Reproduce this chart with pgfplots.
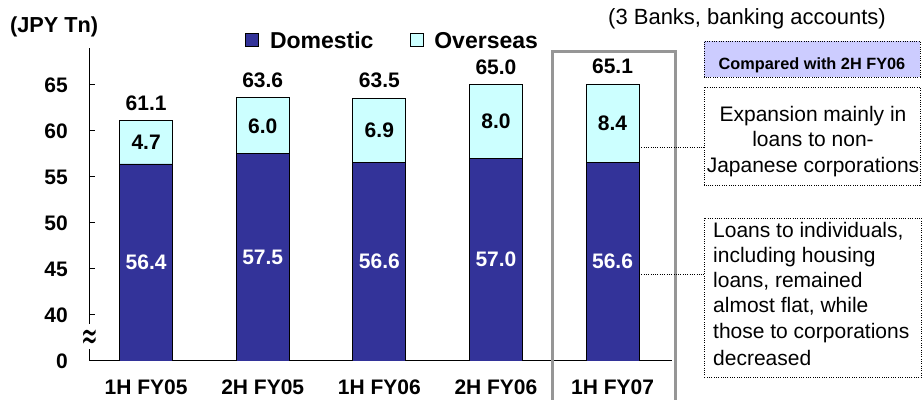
\documentclass[border=0pt]{standalone}
\usepackage{fontspec}
\setmainfont{Liberation Sans}
\newfontfamily\symfont{DejaVu Sans}
\usepackage{pgfplots}
\pgfplotsset{compat=1.18}
\usepackage{pgfplotstable}

\definecolor{domblue}{RGB}{51,51,153}
\definecolor{ovcyan}{RGB}{204,255,255}
\definecolor{lavender}{RGB}{204,204,255}
\definecolor{framegray}{RGB}{150,150,150}

% loan balances, JPY trillion: domestic part and total (domestic + overseas)
\pgfplotstableread{
x dom  tot  ovs
0 56.4 61.1 4.7
1 57.5 63.6 6.0
2 56.6 63.5 6.9
3 57.0 65.0 8.0
4 56.6 65.1 8.4
}\loans

\newcommand\lblfont{\fontsize{21bp}{25bp}\selectfont\bfseries}
\newcommand\txtfont{\fontsize{21bp}{25bp}\selectfont}

\pgfplotsset{
  valuelabel/.style={only marks, mark=*, mark size=0pt,
    mark options={draw=none, fill=none}, forget plot,
    point meta=explicit,
    nodes near coords={\pgfmathprintnumber[fixed,fixed zerofill,precision=1]{\pgfplotspointmeta}},
    every node near coord/.append style={anchor=center, inner sep=0pt, font=\lblfont}},
  loanbar/.style={ybar, bar width=53bp, bar shift=0pt, draw=black,
    line width=0.8bp, forget plot},
}

\tikzset{dotbox/.style={line width=0.9bp, dash pattern=on 0.9bp off 1.4bp}}

\begin{document}
\begin{tikzpicture}
\useasboundingbox (0,0) rectangle (923bp,400bp);
\begin{axis}[
  at={(89bp,39bp)}, anchor=south west,
  scale only axis, width=583bp, height=313bp,
  xmin=-0.49, xmax=4.51, ymin=35, ymax=69,
  axis x line*=bottom, axis y line*=left,
  axis line style={-, line width=1bp, black},
  xtick={0,...,4},
  xticklabels={1H FY05,2H FY05,1H FY06,2H FY06,1H FY07},
  x tick style={draw=none},
  ytick={35,40,45,50,55,60,65},
  yticklabels={0,40,45,50,55,60,65},
  y tick style={line width=1bp, black},
  major tick length=6bp, tick align=inside,
  tick label style={font=\lblfont},
  yticklabel style={inner sep=0pt, anchor=east, xshift=-21bp},
  xticklabel style={inner sep=0pt, anchor=base, yshift=-34bp},
  /pgf/number format/assume math mode=true,
  legend style={at={(0.2676,1.0256)}, anchor=west, draw=none, fill=none,
    inner sep=0pt, font=\fontsize{23bp}{26bp}\selectfont\bfseries,
    nodes={inner sep=0pt, text height=16.6bp, text depth=0pt},
    cells={anchor=west},
    /tikz/every odd column/.append style={column sep=11bp},
    /tikz/every even column/.append style={column sep=36bp}},
  legend columns=2,
]
\addlegendimage{legend image code/.code={\draw[draw=black, line width=0.8bp, fill=domblue] (0bp,-6.5bp) rectangle (13bp,6.5bp);}}
\addlegendentry{Domestic}
\addlegendimage{legend image code/.code={\draw[draw=black, line width=0.8bp, fill=ovcyan] (0bp,-6.5bp) rectangle (13bp,6.5bp);}}
\addlegendentry{Overseas}

% total bar (overseas on top), with the total printed above it
\addplot[loanbar, fill=ovcyan,
  nodes near coords={\pgfmathprintnumber[fixed,fixed zerofill,precision=1]{\pgfplotspointmeta}},
  every node near coord/.append style={anchor=south, inner sep=0pt, yshift=10bp, font=\lblfont, text=black}]
  table[x=x, y=tot] {\loans};
% domestic part drawn over the lower section
\addplot[loanbar, fill=domblue] table[x=x, y=dom] {\loans};

% segment values, centred in each section
\addplot[valuelabel, every node near coord/.append style={text=white}]
  table[x=x, y expr=(35+\thisrow{dom})/2, meta=dom] {\loans};
\addplot[valuelabel, every node near coord/.append style={text=black}]
  table[x=x, y expr=(\thisrow{dom}+\thisrow{tot})/2, meta=ovs] {\loans};
\end{axis}

% broken axis mark
\fill[white] (83bp,51bp) rectangle (97bp,76bp);
\node[inner sep=0pt, font=\symfont\fontsize{21bp}{21bp}\selectfont] at (89.5bp,60.5bp) {\scalebox{0.95}[1.9]{≈}};

% units and scope
\node[anchor=base west, inner sep=0pt, font=\fontsize{21.7bp}{25bp}\selectfont\bfseries] at (10bp,367bp) {(JPY Tn)};
\node[anchor=base west, inner sep=0pt, font=\fontsize{22bp}{25bp}\selectfont] at (608bp,375bp) {(3 Banks, banking accounts)};

% frame round the latest half-year
\draw[framegray, line width=3bp] (552bp,-5bp) -- (552bp,348bp) -- (675bp,348bp) -- (675bp,-5bp);

% leaders to the comments
\draw[dotbox] (639bp,253bp) -- (704bp,253bp);
\draw[dotbox] (639bp,126bp) -- (704bp,126bp);

% comment boxes
\draw[dotbox, fill=lavender] (704bp,323bp) rectangle (920bp,359bp);
\node[anchor=base, inner sep=0pt, font=\fontsize{16.3bp}{19bp}\selectfont\bfseries] at (812bp,330bp) {Compared with 2H FY06};

\draw[dotbox] (704bp,215bp) rectangle (920bp,313bp);
\begin{scope}[every node/.style={anchor=base, inner sep=0pt, font=\txtfont}]
\node at (813bp,278bp) {Expansion mainly in};
\node at (813bp,253bp) {loans to non-};
\node at (813bp,227bp) {Japanese corporations};
\end{scope}

\draw[dotbox] (704bp,22.3bp) rectangle (921bp,182bp);
\begin{scope}[every node/.style={anchor=base west, inner sep=0pt, font=\txtfont}]
\node at (713bp,162bp) {Loans to individuals,};
\node at (713bp,137bp) {including housing};
\node at (713bp,112bp) {loans, remained};
\node at (713bp,87bp) {almost flat, while};
\node at (713bp,61bp) {those to corporations};
\node at (713bp,35bp) {decreased};
\end{scope}
\end{tikzpicture}
\end{document}
